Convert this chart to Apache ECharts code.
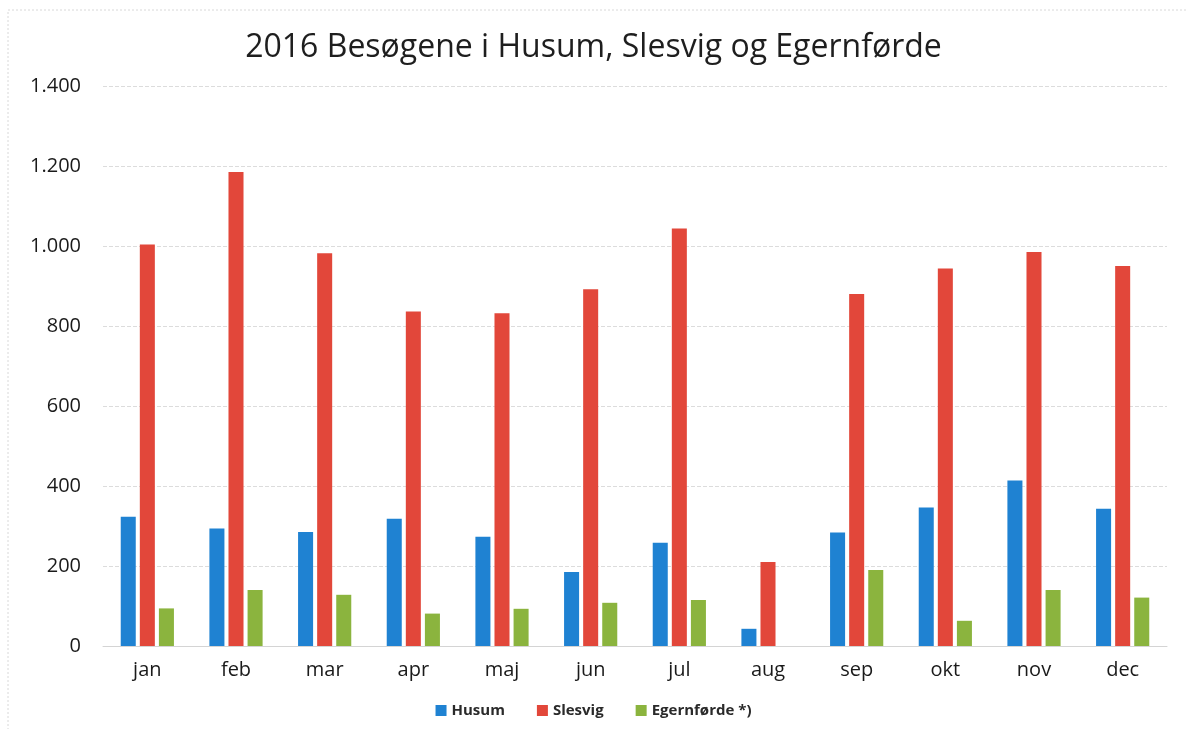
<!DOCTYPE html>
<html>
<head>
<meta charset="utf-8">
<style>
  html, body { margin: 0; padding: 0; background: #fff; }
  #main { width: 1187px; height: 729px; }
</style>
<script src="https://cdn.jsdelivr.net/npm/echarts@6/dist/echarts.min.js"></script>
</head>
<body>
<div id="main"></div>
<script>
// måneder
const months = ['jan', 'feb', 'mar', 'apr', 'maj', 'jun', 'jul', 'aug', 'sep', 'okt', 'nov', 'dec']
// besøgende pr. by
const husum = [323, 294, 285, 318, 273, 185, 258, 43, 284, 346, 414, 343]
const slesvig = [1004, 1185, 982, 836, 832, 892, 1044, 210, 880, 944, 985, 950]
const egernfoerde = [94, 140, 128, 81, 93, 108, 115, 0, 190, 63, 140, 121]

const fontFam = '"Open Sans", "DejaVu Sans", sans-serif'

// tal med punktum som tusindtalsseparator
const fmt = (v) => String(v).replace(/\B(?=(\d{3})+(?!\d))/g, '.')

let chart = echarts.init(document.getElementById('main'))

let option = {
  backgroundColor: '#fff',
  animation: false,
  title: {
    text: '2016 Besøgene i Husum, Slesvig og Egernførde',
    left: 'center',
    top: 27,
    textStyle: {
      fontFamily: fontFam,
      fontSize: 32,
      fontWeight: 'normal',
      color: '#1e1e1e'
    }
  },
  legend: {
    bottom: 6,
    left: 'center',
    itemWidth: 11,
    itemHeight: 11,
    itemGap: 32,
    icon: 'rect',
    textStyle: {
      fontFamily: fontFam,
      fontSize: 15,
      fontWeight: 'bold',
      color: '#2a2a2a'
    },
    data: ['Husum', 'Slesvig', 'Egernførde *)']
  },
  grid: {
    left: 103,
    right: 20,
    top: 86,
    bottom: 83
  },
  xAxis: {
    type: 'category',
    data: months,
    axisTick: { show: false },
    axisLine: { lineStyle: { color: '#d4d4d4' } },
    axisLabel: {
      margin: 14,
      fontFamily: fontFam,
      fontSize: 20,
      color: '#1a1a1a'
    }
  },
  yAxis: {
    type: 'value',
    min: 0,
    max: 1400,
    interval: 200,
    axisLine: { show: false },
    axisTick: { show: false },
    splitLine: { lineStyle: { color: '#dcdcdc', type: 'dashed' } },
    axisLabel: {
      margin: 22,
      fontFamily: fontFam,
      fontSize: 20,
      color: '#1a1a1a',
      formatter: fmt
    }
  },
  series: [
    {
      name: 'Husum',
      type: 'bar',
      data: husum,
      barGap: '27%',
      barCategoryGap: '40%',
      itemStyle: { color: '#1f82d2' }
    },
    {
      name: 'Slesvig',
      type: 'bar',
      data: slesvig,
      itemStyle: { color: '#e2473a' }
    },
    {
      name: 'Egernførde *)',
      type: 'bar',
      data: egernfoerde,
      itemStyle: { color: '#8bb43e' }
    }
  ],
  graphic: [
    // svag ramme fra det scannede billede
    {
      type: 'rect',
      shape: { x: 8, y: 10, width: 1200, height: 740 },
      style: { fill: 'none', stroke: '#d8d8d8', lineWidth: 1, lineDash: [2, 2] },
      silent: true
    }
  ]
}

chart.setOption(option)
</script>
</body>
</html>
